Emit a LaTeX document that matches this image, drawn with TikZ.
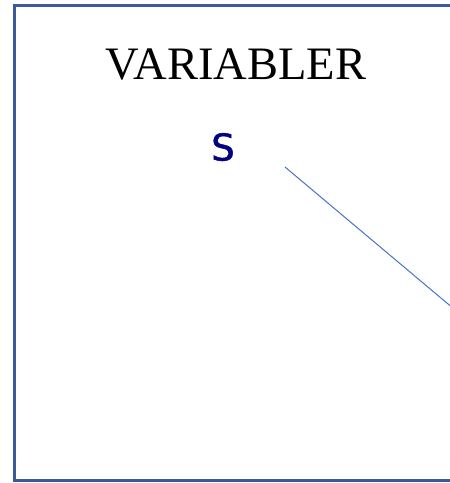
\documentclass[tikz,border=0pt]{standalone}
\usepackage{fontspec}
\setmainfont{Liberation Serif}
\newfontfamily\dvsans[FakeBold=1.3]{DejaVu Sans}
\definecolor{frameblue}{RGB}{60,90,155}
\definecolor{lineblue}{RGB}{68,114,196}
\definecolor{navyS}{RGB}{0,0,128}
\tikzset{
  framebox/.style={draw=frameblue, line width=3pt},
  titletext/.style={inner sep=0pt, anchor=base, font=\fontsize{46.5}{50}\selectfont},
  vartext/.style={inner sep=0pt, anchor=base, text=navyS, font=\dvsans\fontsize{37}{42}\selectfont},
  thinline/.style={draw=lineblue, line width=1pt}
}
\begin{document}
\begin{tikzpicture}[x=1pt,y=1pt]
\useasboundingbox (0,0) rectangle (450,-483);
\clip (0,0) rectangle (450,-483);
\draw[framebox] (14,-5.5) rectangle (470,-480);
\node[titletext] (title) at (236,-79) {VARIABLER};
\node[vartext] (s) at (223,-160.5) {S};
\coordinate (l1) at (285,-167);
\coordinate (l2) at (460,-314);
\draw[thinline] (l1) -- (l2);
\end{tikzpicture}
\end{document}
